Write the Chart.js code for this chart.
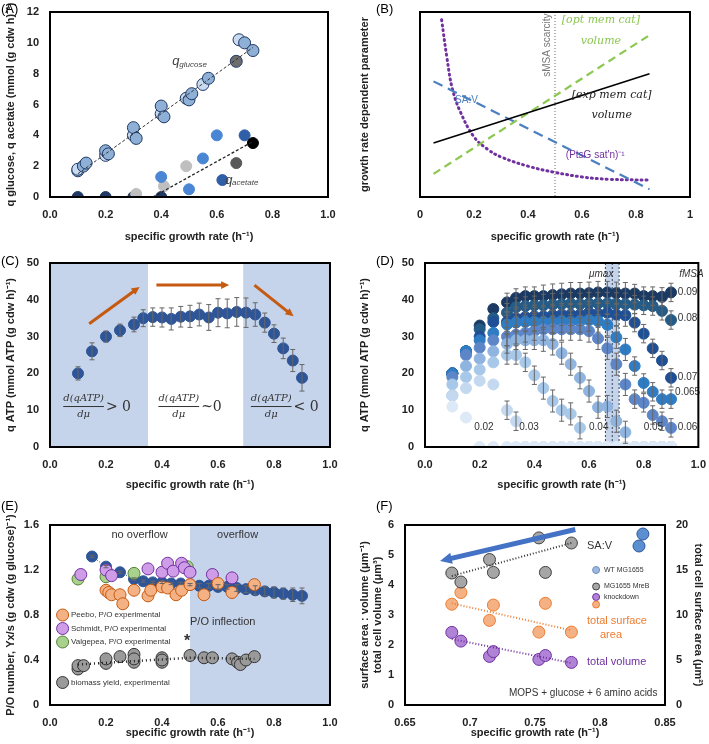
<!DOCTYPE html>
<html><head><meta charset="utf-8">
<script src="https://cdn.jsdelivr.net/npm/chart.js@4.4.0/dist/chart.umd.min.js"></script>
<style>
body{margin:0;background:#fff;font-family:"Liberation Sans",Arial,sans-serif}
#wrap{position:relative;width:709px;height:744px}
canvas{position:absolute}
.lbl{position:absolute;font:13px "Liberation Sans",Arial,sans-serif}
</style></head><body>
<div id="wrap">
<canvas id="cA" style="left:0;top:0" width="354" height="248"></canvas>
<canvas id="cB" style="left:354px;top:0" width="355" height="248"></canvas>
<canvas id="cC" style="left:0;top:248px" width="354" height="248"></canvas>
<canvas id="cD" style="left:354px;top:248px" width="355" height="248"></canvas>
<canvas id="cE" style="left:0;top:496px" width="354" height="248"></canvas>
<canvas id="cF" style="left:354px;top:496px" width="355" height="248"></canvas>
<div class="lbl" style="left:1px;top:1px">(A)</div>
<div class="lbl" style="left:376px;top:1px">(B)</div>
<div class="lbl" style="left:1px;top:253px">(C)</div>
<div class="lbl" style="left:376px;top:253px">(D)</div>
<div class="lbl" style="left:1px;top:498px">(E)</div>
<div class="lbl" style="left:376px;top:498px">(F)</div>
</div>
<script>
// ── Panel A data ──
const glucoseX = [0.1,0.1,0.12,0.13,0.2,0.2,0.21,0.3,0.3,0.31,0.4,0.4,0.41,0.49,0.5,0.51,0.55,0.57,0.67,0.68,0.7,0.73];
const glucoseY = [1.7,1.8,2.0,2.2,2.7,3.0,2.8,4.0,4.5,3.8,5.4,5.9,5.2,6.4,6.3,6.7,7.3,7.7,8.8,10.2,10.0,9.5];
const acetateX = [0.1,0.2,0.3,0.4,0.31,0.41,0.49,0.4,0.5,0.55,0.6,0.62,0.7,0.67,0.73];
const acetateY = [0,0,0,0,0.2,0.7,2.0,1.3,0.5,2.5,4.0,1.1,4.0,2.2,3.5];
const acetateC = ['#1f3864','#1f3864','#1f3864','#1f3864','#bfbfbf','#bfbfbf','#bfbfbf','#4a86d4','#4a86d4','#4a86d4','#4a86d4','#2f5fa6','#2f5fa6','#595959','#000'];

// ── Panel B data ──
const bX2 = [0.05,0.85];
const expCatY = [3.5,8.0];
const optCatY = [1.5,10.5];
const savY = [7.5,0.5];
const ptsgX = [0.08,0.1,0.12,0.15,0.2,0.25,0.3,0.4,0.5,0.6,0.7,0.85];
const ptsgY = [11.5,9.0,7.0,5.5,3.9,3.1,2.6,2.0,1.6,1.3,1.15,1.1];

// ── Panel C data ──
const cX = [0.1,0.15,0.2,0.25,0.3,0.333,0.367,0.4,0.433,0.467,0.5,0.533,0.567,0.6,0.633,0.667,0.7,0.733,0.767,0.8,0.833,0.867,0.9];
const cY = [20,26,30,31.7,33.3,35,35.3,35.2,34.8,35.4,35.5,36,35.2,36.5,36.3,36.7,36.5,36,33.8,30.8,26.8,23.5,18.8];
const cErr = [1.8,2.3,1.5,1.7,2,2.3,2.5,2.6,3,2.8,3,3.1,3.5,3.8,3.9,3.9,4,3.2,2.6,2.4,2.8,3,3.6];

// ── Panel D data ──
const dX = cX;
const fmsaLabels = ['0.09','0.08','0.07','0.065','0.06','0.05','0.04','0.03','0.02'];
const fmsaColors = ['#1b3a63','#245b87','#1f4f95','#2e7cc4','#5d86c9','#8fb4e0','#a8c8ea','#c4d9f0','#dde9f6'];
const d009 = [20,26,33,37.5,39.3,40.5,41,41,41,41.3,41.5,41.7,41.7,41.8,42,42,41.8,41.7,41.7,41,41,40.8,42];
const d008 = [20,26,32,35,36.5,38,38.3,38.5,38.5,38.7,38.8,39,38.8,39,39,39,38.9,38.8,38.7,38.5,38.3,37,34.5];
const d007 = [20,26,30,34,34,35,35.3,35.5,35.5,35.8,36,36,36,36.5,36.2,36.5,36,35.8,33.8,30.8,26.8,23.5,18.8];
const d0065 = [20,26,29,31,33.3,33.8,34,34,34,34,34.2,34,34.2,34.5,34.2,33.2,29.8,26.5,22,17.4,15,13,13];
const d006 = [19,25,27,29,30,30.5,31,31.5,32,32,32,32,32,31.5,29.5,26.8,22.5,17,13,12,8.7,7,5.2];
const d005 = [14,22,24,26,28,29,29,29,29,28,25.5,22.5,18.8,15.2,10.8,11,7,4,0,0,0,0,0];
const d004 = [17,19,21,23,25,25,23,19.5,16,12.5,10,9,5.2,0,0,0,0,0,0,0,0,0,0];
const d003 = [14,16,18,17,10,7,0,0,0,0,0,0,0,0,0,0,0,0,0,0,0,0,0];
const d002 = [11,8,0,0,0,0,0,0,0,0,0,0,0,0,0,0,0,0,0,0,0,0,0];
const dErr = [1.5,2,2,2,2.5,2.5,2.5,2.5,3,3,3,3,3,3,3,3,3,3,2.5,2.5,2.5,2.5,2.5];

// ── Panel E data ──
const modelX = [0.15,0.2,0.25,0.3,0.333,0.367,0.4,0.433,0.467,0.5,0.533,0.567,0.6,0.633,0.667,0.7,0.733,0.767,0.8,0.833,0.867,0.9];
const modelY = [1.32,1.23,1.18,1.12,1.10,1.09,1.09,1.08,1.08,1.07,1.06,1.06,1.05,1.05,1.04,1.03,1.02,1.01,1.0,0.99,0.98,0.97];
const modelErr = [0.01,0.01,0.01,0.01,0.01,0.01,0.01,0.01,0.01,0.01,0.02,0.02,0.02,0.02,0.03,0.03,0.04,0.04,0.05,0.05,0.06,0.07];
const peeboX = [0.2,0.21,0.22,0.25,0.26,0.3,0.35,0.36,0.4,0.42,0.45,0.47,0.5,0.55,0.6,0.65,0.73];
const peeboY = [1.02,1.0,0.98,0.98,0.9,1.02,0.97,1.02,1.05,1.04,0.98,1.02,1.07,0.98,1.08,1.0,1.07];
const schmidtX = [0.11,0.2,0.22,0.35,0.4,0.42,0.44,0.47,0.48,0.5,0.58,0.65];
const schmidtY = [1.16,1.2,1.15,1.21,1.18,1.26,1.19,1.26,1.22,1.18,1.16,1.13];
const valgX = [0.1,0.2,0.3,0.49];
const valgY = [1.12,1.14,1.17,1.23];
const yieldX = [0.1,0.1,0.12,0.2,0.2,0.25,0.3,0.3,0.3,0.4,0.4,0.4,0.5,0.55,0.58,0.65,0.67,0.68,0.7,0.73];
const yieldY = [0.32,0.35,0.35,0.37,0.41,0.43,0.38,0.45,0.41,0.38,0.42,0.4,0.44,0.42,0.42,0.41,0.38,0.36,0.4,0.43];
const yieldTrendX = [0.1,0.5,0.73];
const yieldTrendY = [0.36,0.42,0.41];
const eLegendY = [0.8,0.68,0.56,0.2];

// ── Panel F data ──
const fX = [0.686,0.693,0.715,0.718,0.753,0.758,0.778];
const savF = [4.4,4.1,4.85,4.42,5.57,4.42,5.4];
const areaF = [11.2,12.5,9.4,11.1,8.1,11.3,8.1];
const volF = [2.42,2.13,1.62,1.78,1.52,1.65,1.42];
const wtX = [0.83,0.833];
const wtY = [5.3,5.7];
const fTrendX = [0.686,0.778];
const savTrend = [4.3,5.4];
const areaTrend = [11.3,8.3];
const volTrend = [2.2,1.4];
const fLegendY = [4.5,3.95,3.6,3.35];

const TF = {family:'"Liberation Sans Narrow","Liberation Sans",Arial', size:11, weight:'bold'};
const pts = (xs, ys) => xs.map((x, i) => ({x, y: ys[i]}));

// annotations: boxes, text, arrows, vertical lines, error bars, fractions
const annot = {
  id: 'annot',
  beforeDatasetsDraw(chart) {
    const a = chart.options.plugins.annot || {};
    const c = chart.ctx, xs = chart.scales.x, ca = chart.chartArea;
    c.save();
    (a.boxes || []).forEach(b => {
      c.fillStyle = b.color;
      const x0 = xs.getPixelForValue(b.x0), x1 = xs.getPixelForValue(b.x1);
      c.fillRect(x0, ca.top, x1 - x0, ca.bottom - ca.top);
    });
    (a.vlines || []).forEach(v => {
      c.strokeStyle = v.color || '#555'; c.lineWidth = 1; c.setLineDash(v.dash || [2, 2]);
      const x = xs.getPixelForValue(v.x);
      c.beginPath(); c.moveTo(x, ca.top); c.lineTo(x, ca.bottom); c.stroke();
    });
    c.setLineDash([]);
    c.restore();
  },
  afterDatasetsDraw(chart) {
    const a = chart.options.plugins.annot || {};
    const c = chart.ctx, xs = chart.scales.x, ca = chart.chartArea;
    c.save();
    chart.data.datasets.forEach(ds => {
      if (!ds.err) return;
      const ys = chart.scales[ds.yAxisID || 'y'];
      c.strokeStyle = '#666'; c.lineWidth = 1;
      ds.data.forEach((p, j) => {
        if (!ds.err[j] || !p.y) return;
        const x = xs.getPixelForValue(p.x);
        const y0 = ys.getPixelForValue(p.y - ds.err[j]), y1 = ys.getPixelForValue(p.y + ds.err[j]);
        c.beginPath(); c.moveTo(x, y0); c.lineTo(x, y1);
        c.moveTo(x - 2.5, y0); c.lineTo(x + 2.5, y0); c.moveTo(x - 2.5, y1); c.lineTo(x + 2.5, y1); c.stroke();
      });
    });
    (a.arrows || []).forEach(r => {
      const ys = chart.scales[r.axis || 'y'];
      const x0 = xs.getPixelForValue(r.x0), y0 = ys.getPixelForValue(r.y0);
      const x1 = xs.getPixelForValue(r.x1), y1 = ys.getPixelForValue(r.y1);
      const ang = Math.atan2(y1 - y0, x1 - x0), h = r.head || 9;
      c.strokeStyle = r.color; c.fillStyle = r.color; c.lineWidth = r.w || 3;
      c.beginPath(); c.moveTo(x0, y0);
      c.lineTo(x1 - h * 0.8 * Math.cos(ang), y1 - h * 0.8 * Math.sin(ang)); c.stroke();
      c.beginPath(); c.moveTo(x1, y1);
      c.lineTo(x1 - h * Math.cos(ang - 0.45), y1 - h * Math.sin(ang - 0.45));
      c.lineTo(x1 - h * Math.cos(ang + 0.45), y1 - h * Math.sin(ang + 0.45));
      c.closePath(); c.fill();
    });
    (a.texts || []).forEach(t => {
      const ys = chart.scales[t.axis || 'y'];
      c.save();
      c.translate(xs.getPixelForValue(t.x), ys.getPixelForValue(t.y));
      if (t.rot) c.rotate(t.rot);
      c.fillStyle = t.color || '#333';
      c.font = t.font || '11px "Liberation Sans", Arial';
      c.textAlign = t.align || 'left'; c.textBaseline = 'middle';
      t.text.split('\n').forEach((ln, k) => c.fillText(ln, 0, k * 14));
      c.restore();
    });
    (a.fracs || []).forEach(f => {
      const ys = chart.scales.y;
      const x = xs.getPixelForValue(f.x), y = ys.getPixelForValue(f.y);
      c.fillStyle = f.color || '#333'; c.strokeStyle = f.color || '#333'; c.lineWidth = 1;
      c.font = f.font || 'italic 10px "DejaVu Serif", serif';
      c.textAlign = 'center'; c.textBaseline = 'middle';
      const w = Math.max(c.measureText(f.num).width, c.measureText(f.den).width);
      c.fillText(f.num, x, y - 8); c.fillText(f.den, x, y + 8);
      c.beginPath(); c.moveTo(x - w / 2, y); c.lineTo(x + w / 2, y); c.stroke();
      if (f.tail) {
        c.font = f.tailFont || '14px "DejaVu Serif", serif'; c.textAlign = 'left';
        c.fillText(f.tail, x + w / 2 + 2, y + 1);
      }
    });
    c.strokeStyle = '#000'; c.lineWidth = 2;
    c.strokeRect(ca.left, ca.top, ca.right - ca.left, ca.bottom - ca.top);
    c.restore();
  }
};
Chart.register(annot);

function fix(w) { return s => { s.width = w; }; }
function fixH(h) { return s => { s.height = h; }; }

function xAxis(min, max, step, title, h, fmt) {
  return {type: 'linear', min, max, grid: {display: false}, border: {display: false},
    ticks: {stepSize: step, font: TF, color: '#222', callback: fmt || (v => v.toFixed(1))},
    title: {display: true, text: title, font: TF, color: '#222'}, afterFit: fixH(h)};
}
function yAxis(min, max, step, title, w, extra) {
  return Object.assign({type: 'linear', min, max, grid: {display: false}, border: {display: false},
    ticks: {stepSize: step, font: TF, color: '#222'},
    title: {display: true, text: title, font: TF, color: '#222'}, afterFit: fix(w)}, extra || {});
}
function mk(id, cfg, pad) {
  cfg.options = Object.assign({animation: false, responsive: false, layout: {padding: pad},
    plugins: Object.assign({legend: {display: false}, tooltip: {enabled: false}}, cfg.plugins || {})}, cfg.options);
  delete cfg.plugins;
  return new Chart(document.getElementById(id), cfg);
}
const scat = (data, bg, border, r, extra) => Object.assign({type: 'scatter', data, backgroundColor: bg,
  borderColor: border || '#1f3864', borderWidth: 1, pointRadius: r || 5.5}, extra || {});
const line = (data, color, w, dash, extra) => Object.assign({type: 'line', data, borderColor: color, borderWidth: w,
  borderDash: dash || [], pointRadius: 0, fill: false, tension: 0}, extra || {});

// ── A ──
mk('cA', {
  data: {datasets: [
    line(pts([0.1, 0.73], [1.5, 9.7]), '#333', 1, [3, 2]),
    line(pts([0.37, 0.73], [0, 3.6]), '#222', 1.3, [3, 2]),
    scat(pts(glucoseX, glucoseY), glucoseX.map((x, i) => i === 18 ? '#6d6d6d' : (i % 3 === 1 ? '#c9dbf1' : '#8fb0d6')), '#1f3864', 6),
    scat(pts(acetateX, acetateY), acetateC, acetateC, 5.5)
  ]},
  options: {scales: {x: xAxis(0, 1, 0.2, 'specific growth rate (h⁻¹)', 51),
    y: yAxis(0, 12, 2, 'q glucose, q acetate (mmol (g cdw h)⁻¹)', 50, {ticks: {stepSize: 2, font: TF, color: '#222', callback: v => v}})}},
  plugins: {annot: {texts: [
    {x: 0.44, y: 8.8, text: 'q', font: 'italic 13px "Liberation Sans"', color: '#444'},
    {x: 0.465, y: 8.6, text: 'glucose', font: 'italic 8px "Liberation Sans"', color: '#444'},
    {x: 0.63, y: 1.1, text: 'q', font: 'italic 13px "Liberation Sans"', color: '#444'},
    {x: 0.655, y: 0.9, text: 'acetate', font: 'italic 8px "Liberation Sans"', color: '#444'}
  ]}}
}, {left: 0, top: 12, right: 26, bottom: 0});

// ── B ──
mk('cB', {
  data: {datasets: [
    line(pts(bX2, expCatY), '#000', 1.6),
    line(pts(bX2, optCatY), '#8cc751', 2.2, [8, 5]),
    line(pts(bX2, savY), '#4a7fc0', 2.2, [10, 6]),
    line(pts(ptsgX, ptsgY), '#7030a0', 3, [1, 4], {tension: 0.4, borderCapStyle: 'round'})
  ]},
  options: {scales: {x: xAxis(0, 1, 0.2, 'specific growth rate (h⁻¹)', 51, v => (v === 0 || v === 1) ? v : v.toFixed(1)),
    y: yAxis(0, 12, 1, 'growth rate dependent parameter', 66, {ticks: {display: false, stepSize: 1}})}},
  plugins: {annot: {
    vlines: [{x: 0.5, color: '#666', dash: [1, 2]}],
    texts: [
      {x: 0.47, y: 7.8, text: 'sMSA scarcity', color: '#777', rot: -Math.PI / 2, font: '10px "Liberation Sans"'},
      {x: 0.13, y: 6.3, text: 'SA:V', color: '#4a7fc0', font: '10px "Liberation Sans"'},
      {x: 0.54, y: 2.7, text: "(PtsG sat'n)⁻¹", color: '#7030a0', font: '10px "Liberation Sans"'},
      {x: 0.67, y: 11.5, text: '[opt mem cat]', color: '#8cc751', align: 'center', font: 'italic 11px "DejaVu Serif"'},
      {x: 0.67, y: 10.1, text: 'volume', color: '#8cc751', align: 'center', font: 'italic 11px "DejaVu Serif"'},
      {x: 0.71, y: 6.6, text: '[exp mem cat]', color: '#222', align: 'center', font: 'italic 11px "DejaVu Serif"'},
      {x: 0.71, y: 5.3, text: 'volume', color: '#222', align: 'center', font: 'italic 11px "DejaVu Serif"'}
    ]}}
}, {left: 0, top: 12, right: 19, bottom: 0});

// ── C ──
mk('cC', {
  data: {datasets: [scat(pts(cX, cY), '#2e5597', '#2e5597', 5.5, {err: cErr})]},
  options: {scales: {x: xAxis(0, 1, 0.2, 'specific growth rate (h⁻¹)', 49),
    y: yAxis(0, 50, 10, 'q ATP (mmol ATP (g cdw h)⁻¹)', 50)}},
  plugins: {annot: {
    boxes: [{x0: 0, x1: 0.35, color: '#c6d4eb'}, {x0: 0.69, x1: 1, color: '#c6d4eb'}],
    arrows: [
      {x0: 0.14, y0: 33.5, x1: 0.32, y1: 43.5, color: '#c55a11', w: 3},
      {x0: 0.38, y0: 44, x1: 0.64, y1: 44, color: '#c55a11', w: 3},
      {x0: 0.73, y0: 44, x1: 0.87, y1: 35.5, color: '#c55a11', w: 3}
    ],
    fracs: [
      {x: 0.12, y: 11, num: 'd(qATP)', den: 'dμ', tail: '> 0'},
      {x: 0.46, y: 11, num: 'd(qATP)', den: 'dμ', tail: '~0'},
      {x: 0.79, y: 11, num: 'd(qATP)', den: 'dμ', tail: '< 0'}
    ]}}
}, {left: 0, top: 15, right: 24, bottom: 0});

// ── D ──
const dSeries = [d009, d008, d007, d0065, d006, d005, d004, d003, d002];
const dDatasets = dSeries.map((s, k) => scat(pts(dX, s), fmsaColors[k], fmsaColors[k], 5.5,
  {err: s.map((v, j) => v > 3 && j > 3 ? dErr[j] : 0)}));
mk('cD', {
  data: {datasets: dDatasets.reverse()},
  options: {scales: {x: xAxis(0, 1, 0.2, 'specific growth rate (h⁻¹)', 49),
    y: yAxis(0, 50, 10, 'q ATP (mmol ATP (g cdw h)⁻¹)', 71)}},
  plugins: {annot: {
    boxes: [{x0: 0.66, x1: 0.71, color: '#c6d4eb'}],
    vlines: [{x: 0.66, color: '#345'}, {x: 0.685, color: '#345'}, {x: 0.71, color: '#345'}],
    texts: [
      {x: 0.6, y: 47, text: 'μmax', color: '#333', font: 'italic 10px "Liberation Sans"'},
      {x: 0.93, y: 47, text: 'fMSA', color: '#333', font: 'italic 10px "Liberation Sans"'},
      {x: 0.925, y: 42, text: '0.09', font: '10px "Liberation Sans"'},
      {x: 0.925, y: 35, text: '0.08', font: '10px "Liberation Sans"'},
      {x: 0.925, y: 19, text: '0.07', font: '10px "Liberation Sans"'},
      {x: 0.915, y: 15, text: '0.065', font: '10px "Liberation Sans"'},
      {x: 0.925, y: 5.5, text: '0.06', font: '10px "Liberation Sans"'},
      {x: 0.8, y: 5.5, text: '0.05', font: '10px "Liberation Sans"'},
      {x: 0.6, y: 5.5, text: '0.04', font: '10px "Liberation Sans"'},
      {x: 0.345, y: 5.5, text: '0.03', font: '10px "Liberation Sans"'},
      {x: 0.18, y: 5.5, text: '0.02', font: '10px "Liberation Sans"'}
    ]}}
}, {left: 0, top: 15, right: 9, bottom: 0});

// ── E ──
mk('cE', {
  data: {datasets: [
    line(pts(yieldTrendX, yieldTrendY), '#222', 2.5, [1, 3]),
    scat(pts(yieldX, yieldY), '#9a9a9a', '#333', 6),
    scat(pts(peeboX, peeboY), '#f4b183', '#c55a11', 6),
    scat(pts(schmidtX, schmidtY), '#cf9ce8', '#7030a0', 6),
    scat(pts(valgX, valgY), '#a9d18e', '#548235', 6),
    scat(pts([0.045, 0.045, 0.045, 0.045], eLegendY), ['#f4b183', '#cf9ce8', '#a9d18e', '#9a9a9a'], ['#c55a11', '#7030a0', '#548235', '#333'], 6),
    line(pts(modelX, modelY), '#2e5597', 1, [1, 2], {pointRadius: 5.5, pointBackgroundColor: '#2e5597', err: modelErr})
  ]},
  options: {scales: {x: xAxis(0, 1, 0.2, 'specific growth rate (h⁻¹)', 39),
    y: yAxis(0, 1.6, 0.4, 'P/O number, Yx/s (g cdw (g glucose)⁻¹)', 50, {ticks: {stepSize: 0.4, font: TF, color: '#222', callback: v => v === 0 ? '0' : v.toFixed(1)}})}},
  plugins: {annot: {
    boxes: [{x0: 0.5, x1: 1, color: '#c6d4eb'}],
    texts: [
      {x: 0.32, y: 1.51, text: 'no overflow', align: 'center', font: '11px "Liberation Sans"'},
      {x: 0.67, y: 1.51, text: 'overflow', align: 'center', font: '11px "Liberation Sans"'},
      {x: 0.5, y: 0.74, text: 'P/O inflection', font: '11px "Liberation Sans"'},
      {x: 0.49, y: 0.56, text: '*', align: 'center', font: 'bold 16px "Liberation Sans"'},
      {x: 0.075, y: 0.8, text: 'Peebo, P/O experimental', font: '8px "Liberation Sans"'},
      {x: 0.075, y: 0.68, text: 'Schmidt, P/O experimental', font: '8px "Liberation Sans"'},
      {x: 0.075, y: 0.56, text: 'Valgepea, P/O experimental', font: '8px "Liberation Sans"'},
      {x: 0.075, y: 0.2, text: 'biomass yield, experimental', font: '8px "Liberation Sans"'}
    ]}}
}, {left: 0, top: 29, right: 24, bottom: 0});

// ── F ──
mk('cF', {
  data: {datasets: [
    line(pts(fTrendX, savTrend), '#333', 2, [1, 2]),
    line(pts(fTrendX, areaTrend), '#ed7d31', 2, [1, 2], {yAxisID: 'y2'}),
    line(pts(fTrendX, volTrend), '#7030a0', 2, [1, 2]),
    scat(pts(fX, savF), '#a6a6a6', '#404040', 6),
    scat(pts(fX, areaF), '#f4b183', '#ed7d31', 6, {yAxisID: 'y2'}),
    scat(pts(fX, volF), '#b183d6', '#7030a0', 6),
    scat(pts(wtX, wtY), '#5b8fd2', '#2e5597', 6),
    scat(pts([0.797, 0.797, 0.797, 0.797], fLegendY), ['#9cb8e0', '#a6a6a6', '#b183d6', '#f4b183'], ['#6f8fc0', '#404040', '#7030a0', '#ed7d31'], 3.5)
  ]},
  options: {scales: {x: xAxis(0.65, 0.85, 0.05, 'specific growth rate (h⁻¹)', 39, v => +v.toFixed(2) + ''),
    y: yAxis(0, 6, 1, '', 51, {title: {display: true, text: ['surface area : volume (μm⁻¹)', 'total cell volume (μm³)'], font: TF, color: '#222'}}),
    y2: yAxis(0, 20, 5, 'total cell surface area (μm²)', 44, {position: 'right'})}},
  plugins: {annot: {
    arrows: [{x0: 0.781, y0: 5.85, x1: 0.677, y1: 4.8, color: '#4472c4', w: 5, head: 13}],
    texts: [
      {x: 0.79, y: 5.3, text: 'SA:V', font: '11px "Liberation Sans"'},
      {x: 0.803, y: 4.5, text: 'WT MG1655', font: '7px "Liberation Sans"'},
      {x: 0.803, y: 3.95, text: 'MG1655 MreB', font: '7px "Liberation Sans"'},
      {x: 0.803, y: 3.6, text: 'knockdown', font: '7px "Liberation Sans"'},
      {x: 0.79, y: 2.8, text: 'total surface', color: '#ed7d31', font: '11px "Liberation Sans"'},
      {x: 0.8, y: 2.35, text: 'area', color: '#ed7d31', font: '11px "Liberation Sans"'},
      {x: 0.79, y: 1.45, text: 'total volume', color: '#7030a0', font: '11px "Liberation Sans"'},
      {x: 0.73, y: 0.4, text: 'MOPS + glucose + 6 amino acids', font: '10px "Liberation Sans"'}
    ]}}
}, {left: 0, top: 29, right: 0, bottom: 0});
</script>
</body></html>
